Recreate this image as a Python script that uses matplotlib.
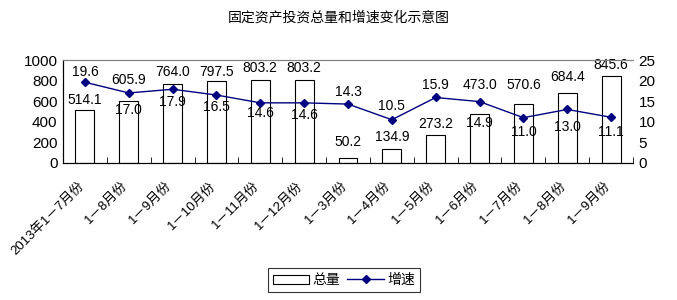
import numpy as np
import matplotlib
matplotlib.use("Agg")
import matplotlib.pyplot as plt
from matplotlib.transforms import ScaledTranslation

plt.rcParams['font.family'] = ['Liberation Sans', 'Noto Sans CJK SC', 'DejaVu Sans']

months = ["2013年1－7月份", "1－8月份", "1－9月份", "1－10月份", "1－11月份", "1－12月份",
          "1－3月份", "1－4月份", "1－5月份", "1－6月份", "1－7月份", "1－8月份", "1－9月份"]
total = [514.1, 605.9, 764.0, 797.5, 803.2, 803.2, 50.2, 134.9, 273.2, 473.0, 570.6, 684.4, 845.6]
growth = [19.6, 17.0, 17.9, 16.5, 14.6, 14.6, 14.3, 10.5, 15.9, 14.9, 11.0, 13.0, 11.1]

# label offsets in pixels (Excel placed them by hand)
bar_off = [10, 21, 12, 9, 12, 12, 16, 12, 11, 29, 19, 16, 11]
line_off = [10, -17, -13, -12, -10, -12, 12, 14, 12, -21, -14, -18, -15]

fig = plt.figure(figsize=(6.77, 3.0), dpi=100)
ax = fig.add_axes([63 / 677, 1 - 163 / 300, 570 / 677, 103 / 300])
ax2 = ax.twinx()

x = np.arange(len(months))
ax.bar(x, total, width=0.43, color='white', edgecolor='black', linewidth=0.8, label='总量', zorder=2)
ax2.plot(x, growth, color='#000080', marker='D', markersize=4.5, linewidth=1.0, label='增速')

ax.set_xlim(-0.5, len(months) - 0.5)
ax.set_ylim(0, 1000)
ax.set_yticks(range(0, 1001, 200))
ax2.set_ylim(0, 25)
ax2.set_yticks(range(0, 26, 5))

for i, v in enumerate(total):
    ax.annotate(f"{v:.1f}", (x[i], v), xytext=(0, bar_off[i]), textcoords='offset pixels',
                ha='center', va='center', fontsize=10)
for i, v in enumerate(growth):
    ax2.annotate(f"{v:.1f}", (x[i], v), xytext=(0, line_off[i]), textcoords='offset pixels',
                 ha='center', va='center', fontsize=10)

ax.set_xticks(x)
ax.set_xticklabels(months, rotation=45, ha='right', va='top', rotation_mode='anchor', fontsize=9.5)
ax.tick_params(axis='x', length=0, pad=12)
shift = ScaledTranslation(-7 / 100, 0, fig.dpi_scale_trans)
for lab in ax.get_xticklabels():
    lab.set_transform(lab.get_transform() + shift)
ax.set_xticks(np.arange(-0.5, len(months)), minor=True)
ax.tick_params(axis='x', which='minor', direction='in', length=4)
ax.tick_params(axis='y', length=0, labelsize=11, pad=4)
ax2.tick_params(axis='y', length=0, labelsize=11, pad=4)

for a in (ax, ax2):
    a.spines['top'].set_color('#808080')
    a.spines['right'].set_visible(False)
    a.spines['left'].set_linewidth(0.8)
    a.spines['bottom'].set_linewidth(0.8)

fig.text(0.5, 1 - 17 / 300, "固定资产投资总量和增速变化示意图", ha='center', va='center', fontsize=10)

h1, l1 = ax.get_legend_handles_labels()
h2, l2 = ax2.get_legend_handles_labels()
leg = fig.legend(h1 + h2, l1 + l2, loc='center', bbox_to_anchor=(344 / 677, 1 - 280 / 300),
                 ncol=2, frameon=True, fancybox=False, edgecolor='black', fontsize=10,
                 handlelength=2.6, handleheight=0.6, columnspacing=0.5, borderpad=0.35,
                 handletextpad=0.3)
leg.get_frame().set_linewidth(0.8)

fig.savefig("out.png", dpi=100)
